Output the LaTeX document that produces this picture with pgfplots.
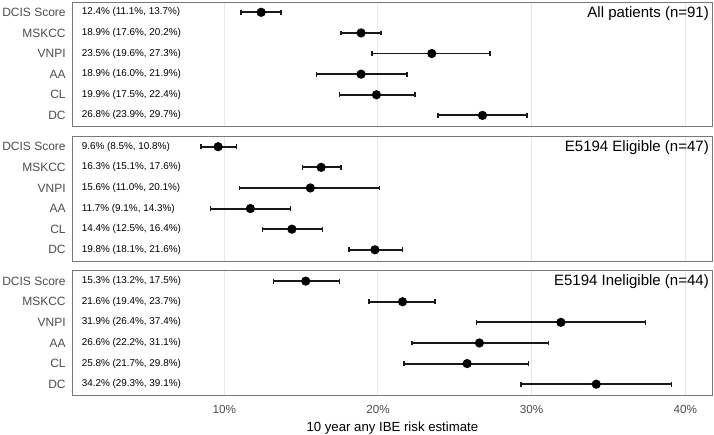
\documentclass[border=0pt]{standalone}
\usepackage{pgfplots}
\pgfplotsset{compat=1.18}
\usepackage{pgfplotstable}
\usepackage{fontspec}
\setmainfont{Liberation Sans}
\definecolor{tickgray}{RGB}{77,77,77}
\definecolor{gridgray}{RGB}{232,232,232}
\definecolor{framegray}{RGB}{120,120,120}

\pgfplotstableread{
y est lo hi
1 12.4 11.1 13.7
2 18.9 17.6 20.2
3 23.5 19.6 27.3
4 18.9 16.0 21.9
5 19.9 17.5 22.4
6 26.8 23.9 29.7
}\tableA
\pgfplotstableread{
y est lo hi
1 9.6 8.5 10.8
2 16.3 15.1 17.6
3 15.6 11.0 20.1
4 11.7 9.1 14.3
5 14.4 12.5 16.4
6 19.8 18.1 21.6
}\tableB
\pgfplotstableread{
y est lo hi
1 15.3 13.2 17.5
2 21.6 19.4 23.7
3 31.9 26.4 37.4
4 26.6 22.2 31.1
5 25.8 21.7 29.8
6 34.2 29.3 39.1
}\tableC

\tikzset{
 ann/.style={anchor=west, inner sep=0pt, font=\fontsize{9.9}{11}\selectfont},
 ttl/.style={anchor=north east, inner sep=0pt, font=\fontsize{15}{17}\selectfont},
}
\pgfplotsset{
 panel/.style={
  width=639.3pt, height=124.8pt, scale only axis,
  xmin=0.14, xmax=41.73, ymin=0.5, ymax=6.553, y dir=reverse,
  ytick={1,...,6}, yticklabels={DCIS Score,MSKCC,VNPI,AA,CL,DC},
  xtick={10,20,30,40},
  major tick length=0pt,
  xmajorgrids, major grid style={gridgray, line width=1pt},
  axis line style={framegray, line width=0.9pt},
  yticklabel style={font=\fontsize{12}{14}\selectfont, text=tickgray, xshift=-3.5pt},
  xticklabel style={font=\fontsize{11.7}{14}\selectfont, text=tickgray},
  clip=false,
 },
 ci/.style={black, line width=1.9pt, mark=*, mark size=3.6pt, only marks,
  error bars/.cd, x dir=both, x explicit,
  error bar style={line width=1.9pt, black!90},
  error mark options={black!90, mark size=2.4pt, line width=1.5pt, rotate=90}},
}

\begin{document}
\begin{tikzpicture}
\useasboundingbox (0,0) rectangle (714pt,-435pt);

\begin{axis}[panel, at={(72.7pt,-2pt)}, anchor=north west, xticklabels={}]
\addplot[ci] table[x=est, y=y, x error plus expr=\thisrow{hi}-\thisrow{est}, x error minus expr=\thisrow{est}-\thisrow{lo}] {\tableA};
\node[ann] at (axis cs:0.72,1) {12.4\% (11.1\%, 13.7\%)};
\node[ann] at (axis cs:0.72,2) {18.9\% (17.6\%, 20.2\%)};
\node[ann] at (axis cs:0.72,3) {23.5\% (19.6\%, 27.3\%)};
\node[ann] at (axis cs:0.72,4) {18.9\% (16.0\%, 21.9\%)};
\node[ann] at (axis cs:0.72,5) {19.9\% (17.5\%, 22.4\%)};
\node[ann] at (axis cs:0.72,6) {26.8\% (23.9\%, 29.7\%)};
\node[ttl] at (axis description cs:1,1) [xshift=-3pt, yshift=-4pt] {All patients (n=91)};
\end{axis}

\begin{axis}[panel, at={(72.7pt,-136.4pt)}, anchor=north west, xticklabels={}]
\addplot[ci] table[x=est, y=y, x error plus expr=\thisrow{hi}-\thisrow{est}, x error minus expr=\thisrow{est}-\thisrow{lo}] {\tableB};
\node[ann] at (axis cs:0.72,1) {9.6\% (8.5\%, 10.8\%)};
\node[ann] at (axis cs:0.72,2) {16.3\% (15.1\%, 17.6\%)};
\node[ann] at (axis cs:0.72,3) {15.6\% (11.0\%, 20.1\%)};
\node[ann] at (axis cs:0.72,4) {11.7\% (9.1\%, 14.3\%)};
\node[ann] at (axis cs:0.72,5) {14.4\% (12.5\%, 16.4\%)};
\node[ann] at (axis cs:0.72,6) {19.8\% (18.1\%, 21.6\%)};
\node[ttl] at (axis description cs:1,1) [xshift=-3pt, yshift=-4pt] {E5194 Eligible (n=47)};
\end{axis}

\begin{axis}[panel, at={(72.7pt,-270.8pt)}, anchor=north west,
  xticklabels={10\%,20\%,30\%,40\%}, xticklabel style={yshift=-6pt}]
\addplot[ci] table[x=est, y=y, x error plus expr=\thisrow{hi}-\thisrow{est}, x error minus expr=\thisrow{est}-\thisrow{lo}] {\tableC};
\node[ann] at (axis cs:0.72,1) {15.3\% (13.2\%, 17.5\%)};
\node[ann] at (axis cs:0.72,2) {21.6\% (19.4\%, 23.7\%)};
\node[ann] at (axis cs:0.72,3) {31.9\% (26.4\%, 37.4\%)};
\node[ann] at (axis cs:0.72,4) {26.6\% (22.2\%, 31.1\%)};
\node[ann] at (axis cs:0.72,5) {25.8\% (21.7\%, 29.8\%)};
\node[ann] at (axis cs:0.72,6) {34.2\% (29.3\%, 39.1\%)};
\node[ttl] at (axis description cs:1,1) [xshift=-3pt, yshift=-4pt] {E5194 Ineligible (n=44)};
\node[anchor=base, inner sep=0pt, font=\fontsize{13.2}{15}\selectfont] at (axis description cs:0.5,0) [yshift=-35.5pt] {10 year any IBE risk estimate};
\end{axis}
\end{tikzpicture}
\end{document}
